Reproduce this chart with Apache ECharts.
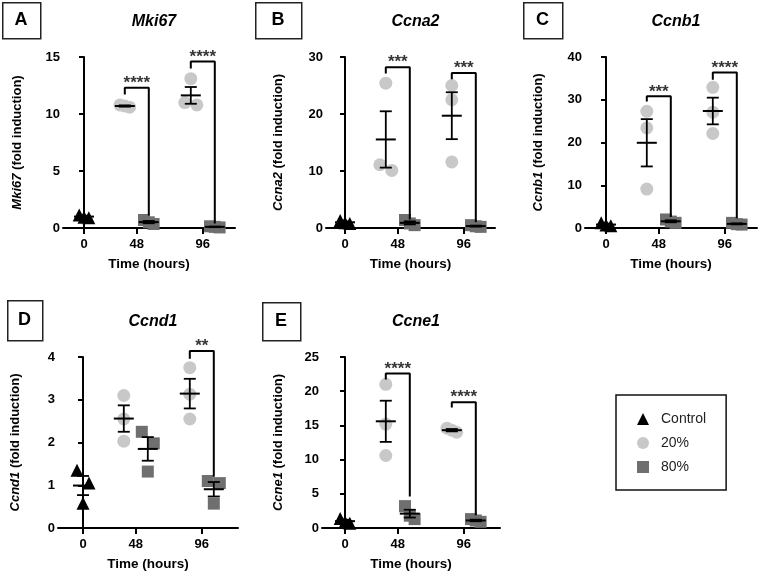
<!DOCTYPE html>
<html>
<head>
<meta charset="utf-8">
<script src="https://cdn.jsdelivr.net/npm/echarts@6/dist/echarts.min.js"></script>
<style>
  html, body { margin: 0; background: #fff; }
  #chart { width: 758px; height: 572px; }
</style>
</head>
<body>
<div id="chart"></div>
<script>
var times = ['0', '48', '96'];
var genes = ['Mki67', 'Ccna2', 'Ccnb1', 'Ccnd1', 'Ccne1'];
var letters = ['A', 'B', 'C', 'D', 'E'];
var groupNames = ['Control', '20%', '80%'];
var yMax = [15, 30, 40, 4, 25];
var yStep = [5, 10, 10, 1, 5];

// replicates: control at 0 h, 20% / 80% at [48 h, 96 h]
var mki67Control = [1.15, 0.95, 0.9];
var mki67Low = [[10.6, 10.7, 10.8], [13.1, 11.0, 10.8]];
var mki67High = [[0.7, 0.5, 0.35], [0.15, 0.1, 0.05]];
var mki67Brackets = [[12.3, 11.7, 1.1], [14.6, 14.0, 0.4]]; // top, left end, right end
var mki67Stars = ['****', '****'];

var ccna2Control = [1.3, 0.9, 0.8];
var ccna2Low = [[25.4, 10.1, 11.1], [25.0, 22.5, 11.6]];
var ccna2High = [[1.4, 0.8, 0.5], [0.5, 0.3, 0.2]];
var ccna2Brackets = [[28.2, 27.1, 1.5], [27.2, 26.1, 1.0]];
var ccna2Stars = ['***', '***'];

var ccnb1Control = [1.2, 0.7, 0.5];
var ccnb1Low = [[27.3, 23.4, 9.1], [32.9, 27.1, 22.1]];
var ccnb1High = [[2.0, 1.5, 1.2], [1.2, 0.9, 0.8]];
var ccnb1Brackets = [[30.8, 29.6, 2.6], [36.4, 34.7, 2.3]];
var ccnb1Stars = ['***', '****'];

var ccnd1Control = [1.35, 1.05, 0.58];
var ccnd1Low = [[3.1, 2.55, 2.03], [3.75, 3.13, 2.55]];
var ccnd1High = [[2.25, 1.98, 1.32], [1.1, 1.05, 0.57]];
var ccnd1Brackets = [null, [4.14, 3.96, 1.2]];
var ccnd1Stars = ['', '**'];

var ccne1Control = [1.4, 0.9, 0.7];
var ccne1Low = [[21.0, 15.2, 10.6], [14.6, 14.3, 14.0]];
var ccne1High = [[3.2, 1.8, 1.3], [1.3, 1.1, 0.9]];
var ccne1Brackets = [[22.6, 21.7, 4.6], [18.4, 17.6, 1.85]];
var ccne1Stars = ['****', '****'];

var panels = [
  { control: mki67Control, low: mki67Low, high: mki67High, brackets: mki67Brackets, stars: mki67Stars },
  { control: ccna2Control, low: ccna2Low, high: ccna2High, brackets: ccna2Brackets, stars: ccna2Stars },
  { control: ccnb1Control, low: ccnb1Low, high: ccnb1High, brackets: ccnb1Brackets, stars: ccnb1Stars },
  { control: ccnd1Control, low: ccnd1Low, high: ccnd1High, brackets: ccnd1Brackets, stars: ccnd1Stars },
  { control: ccne1Control, low: ccne1Low, high: ccne1High, brackets: ccne1Brackets, stars: ccne1Stars }
];

// layout
var FONT = '"Liberation Sans", Arial, sans-serif';
var grids = [
  { left: 63, top: 57, width: 172, height: 171 },
  { left: 326, top: 57, width: 169, height: 171 },
  { left: 585, top: 57, width: 172, height: 171 },
  { left: 58, top: 357, width: 180, height: 171 },
  { left: 322, top: 357, width: 178, height: 171 }
];
var ctrlOffset = [21, 19, 21, 25, 23];
var nameGaps = [39, 41, 40, 36, 37];
var boxes = [[2, 2, 38, 36], [255, 2, 46, 36], [523, 2, 39, 36], [7, 300, 35, 40], [262, 302, 38, 38]];
var SLOT = 24;
var tickPos = [0, 2.2, 4.95];
var colors = ['#000000', '#c8c8c8', '#6f6f6f'];
var symbols = ['triangle', 'circle', 'rect'];

function stats(v) {
  var m = v.reduce(function (a, b) { return a + b; }, 0) / v.length;
  var ss = v.reduce(function (a, b) { return a + (b - m) * (b - m); }, 0);
  return [m, Math.sqrt(ss / (v.length - 1)) / Math.sqrt(v.length)];
}

// nudge replicates sideways when they would overlap
function spread(vals, ppu) {
  var idx = vals.map(function (v, k) { return k; }).sort(function (a, b) { return vals[b] - vals[a]; });
  var off = vals.map(function () { return 0; });
  var cl = [idx[0]];
  function flush() {
    var n = cl.length;
    if (n < 2) return;
    var w = n === 2 ? 0.5 : 0.4;
    cl.forEach(function (k, j) { off[k] = (j / (n - 1) - 0.5) * w; });
  }
  for (var j = 1; j < idx.length; j++) {
    if ((vals[cl[cl.length - 1]] - vals[idx[j]]) * ppu < 14) cl.push(idx[j]);
    else { flush(); cl = [idx[j]]; }
  }
  flush();
  return off;
}

function errorBar(params, api) {
  var x = api.value(0), m = api.value(1), e = api.value(2);
  var c = api.coord([x, m]), hi = api.coord([x, m + e]), lo = api.coord([x, m - e]);
  var st = { stroke: '#000', lineWidth: 1.8 };
  return {
    type: 'group',
    children: [
      { type: 'line', shape: { x1: c[0] - 10, y1: c[1], x2: c[0] + 10, y2: c[1] }, style: { stroke: '#000', lineWidth: 2 } },
      { type: 'line', shape: { x1: c[0], y1: hi[1], x2: c[0], y2: lo[1] }, style: st },
      { type: 'line', shape: { x1: c[0] - 6, y1: hi[1], x2: c[0] + 6, y2: hi[1] }, style: st },
      { type: 'line', shape: { x1: c[0] - 6, y1: lo[1], x2: c[0] + 6, y2: lo[1] }, style: st }
    ]
  };
}

var xAxes = [], yAxes = [], series = [], titles = [], graphics = [];

panels.forEach(function (p, i) {
  var g = grids[i];
  var ppu = g.height / yMax[i];

  xAxes.push({
    gridIndex: i, type: 'value',
    min: -ctrlOffset[i] / SLOT, max: (g.width - ctrlOffset[i]) / SLOT,
    axisLine: { show: true, lineStyle: { color: '#000', width: 2 } },
    axisTick: { show: true, length: 6, customValues: tickPos, lineStyle: { color: '#000', width: 2 } },
    axisLabel: {
      customValues: tickPos, margin: 10, color: '#000', fontWeight: 'bold', fontSize: 13, fontFamily: FONT,
      formatter: function (v) {
        var k = 0;
        tickPos.forEach(function (t, j) { if (Math.abs(t - v) < 0.01) k = j; });
        return times[k];
      }
    },
    splitLine: { show: false },
    name: 'Time (hours)', nameLocation: 'middle', nameGap: 29,
    nameTextStyle: { color: '#000', fontWeight: 'bold', fontSize: 13.5, fontFamily: FONT }
  });

  yAxes.push({
    gridIndex: i, type: 'value', min: 0, max: yMax[i], interval: yStep[i],
    axisLine: { show: true, lineStyle: { color: '#000', width: 2 } },
    axisTick: { show: true, length: 5, lineStyle: { color: '#000', width: 2 } },
    axisLabel: { margin: 3, color: '#000', fontWeight: 'bold', fontSize: 13, fontFamily: FONT },
    splitLine: { show: false },
    name: '{i|' + genes[i] + '} (fold induction)', nameLocation: 'middle', nameGap: nameGaps[i], nameRotate: 90,
    nameTextStyle: {
      color: '#000', fontWeight: 'bold', fontSize: 13, fontFamily: FONT,
      rich: { i: { fontStyle: 'italic', fontWeight: 'bold', fontSize: 13, fontFamily: FONT, color: '#000' } }
    }
  });

  titles.push({
    text: genes[i], left: g.left + g.width / 2, top: g.top - 48, textAlign: 'center',
    textStyle: { fontStyle: 'italic', fontWeight: 'bold', fontSize: 16, fontFamily: FONT, color: '#000' }
  });

  var b = boxes[i];
  graphics.push({
    type: 'rect', left: b[0], top: b[1], shape: { width: b[2], height: b[3] },
    style: { fill: '#fff', stroke: '#222', lineWidth: 1.5 }
  });
  graphics.push({
    type: 'text', x: b[0] + b[2] / 2, y: b[1] + b[3] / 2,
    style: { text: letters[i], fill: '#000', font: 'bold 18px ' + FONT, textAlign: 'center', textVerticalAlign: 'middle' }
  });

  // replicate points per group
  var groups = [[p.control], p.low, p.high];
  var bases = [[tickPos[0]], [tickPos[1] - 0.5, tickPos[2] - 0.5], [tickPos[1] + 0.5, tickPos[2] + 0.5]];
  var bars = [];
  groups.forEach(function (sets, s) {
    var pts = [];
    sets.forEach(function (vals, k) {
      var off = spread(vals, ppu);
      vals.forEach(function (v, j) { pts.push([bases[s][k] + off[j], v]); });
      var st = stats(vals);
      bars.push([bases[s][k], st[0], st[1]]);
    });
    series.push({
      name: groupNames[s], type: 'scatter', xAxisIndex: i, yAxisIndex: i,
      symbol: symbols[s], symbolSize: s === 2 ? 12 : 13, clip: false, z: 2,
      itemStyle: { color: colors[s], opacity: 1 },
      data: pts
    });
  });

  series.push({
    type: 'custom', xAxisIndex: i, yAxisIndex: i, renderItem: errorBar, z: 4, silent: true,
    data: bars
  });

  p.brackets.forEach(function (br, k) {
    if (!br) return;
    var x1 = tickPos[k + 1] - 0.5, x2 = tickPos[k + 1] + 0.5;
    series.push({
      type: 'line', xAxisIndex: i, yAxisIndex: i, symbol: 'none', clip: false, silent: true, z: 4,
      lineStyle: { color: '#000', width: 2 },
      data: [[x1, br[1]], [x1, br[0]], [x2, br[0]], [x2, br[2]]]
    });
    series.push({
      type: 'scatter', xAxisIndex: i, yAxisIndex: i, symbolSize: 0, clip: false, silent: true, z: 5,
      label: {
        show: true, position: 'top', distance: 0, offset: [0, 4], formatter: p.stars[k],
        color: '#000', fontWeight: 'bold', fontSize: 17, fontFamily: FONT
      },
      data: [[tickPos[k + 1], br[0]]]
    });
  });
});

var chart = echarts.init(document.getElementById('chart'));
chart.setOption({
  backgroundColor: '#fff',
  animation: false,
  title: titles,
  grid: grids,
  xAxis: xAxes,
  yAxis: yAxes,
  legend: {
    orient: 'vertical', left: 616, top: 395,
    borderColor: '#111', borderWidth: 1.5,
    padding: [17, 20, 16, 21],
    itemWidth: 12, itemHeight: 12, itemGap: 10,
    textStyle: { color: '#222', fontSize: 14, fontFamily: FONT, padding: [0, 0, 0, 7] },
    data: [
      { name: 'Control', icon: 'triangle' },
      { name: '20%', icon: 'circle' },
      { name: '80%', icon: 'rect' }
    ]
  },
  graphic: graphics,
  series: series
});
</script>
</body>
</html>
